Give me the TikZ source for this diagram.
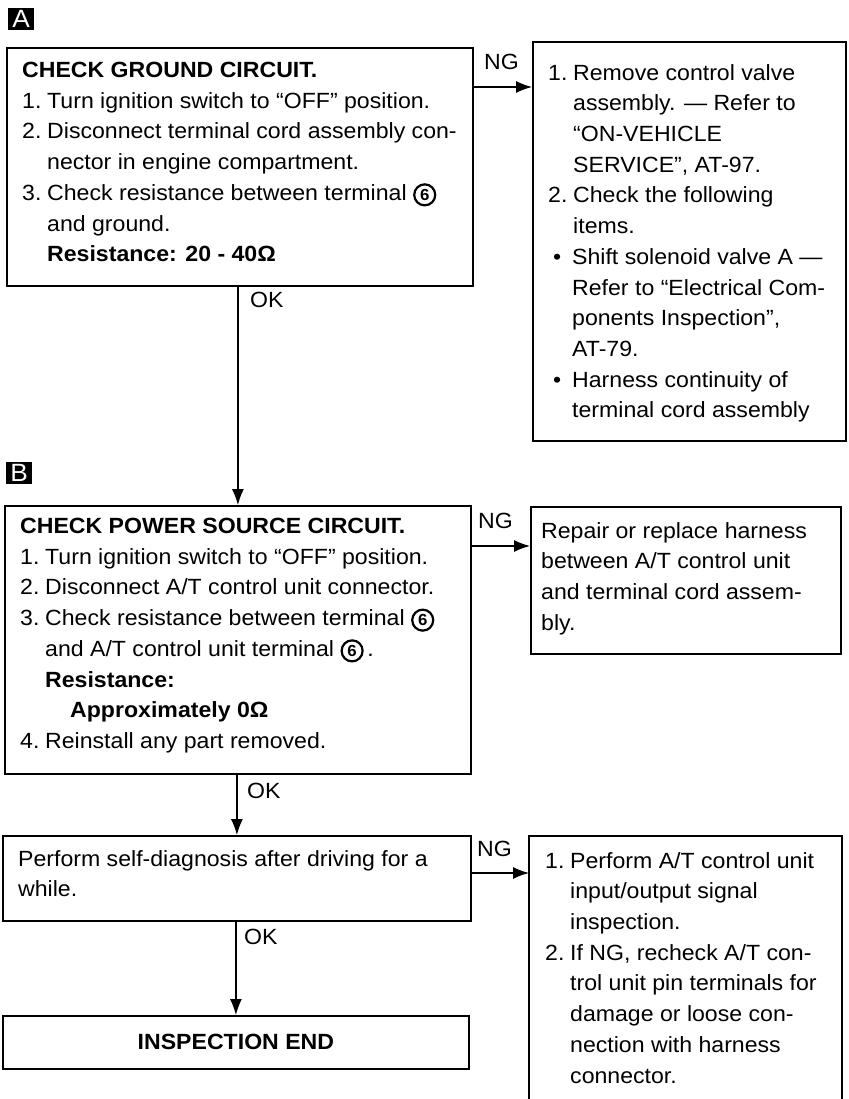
\documentclass[tikz,border=0pt]{standalone}
\usepackage{fontspec}
\setmainfont{Liberation Sans}[FakeStretch=1.05]
\usetikzlibrary{arrows.meta}
\newcommand\itemno[1]{\makebox[25pt][l]{#1}}
\newcommand\contind{\hspace*{25pt}}
\newcommand\bulletno{\makebox[19pt][l]{•}}
\newcommand\bulind{\hspace*{19pt}}
\newcommand\circsix{\tikz[baseline=(c6.base)]\node[circle, draw, line width=2.2pt, inner sep=0pt, minimum size=21pt, font=\fontsize{16}{16}\selectfont\bfseries] (c6) {6};}
\begin{document}
\begin{tikzpicture}[x=1pt,y=-1pt,
  box/.style={draw, line width=1.8pt, inner sep=0pt, anchor=north west},
  txt/.style={anchor=north west, align=left, inner sep=0pt, font=\fontsize{22}{30.7}\selectfont},
  conn/.style={line width=1.2pt, -{Latex[length=16pt,width=12pt]}},
  lbl/.style={font=\fontsize{22}{24}\selectfont, anchor=base west, inner sep=0pt},
  tag/.style={fill=black, text=white, minimum width=26pt, minimum height=22pt, anchor=north west, inner sep=0pt, font=\fontsize{25}{25}\selectfont}]
\useasboundingbox (0,0) rectangle (848,1099);

% tags
\node[tag] (tagA) at (8,8) {A};
\node[tag] (tagB) at (6,462) {B};

% boxes
\node[box, minimum width=466pt, minimum height=238pt] (a) at (6,47) {};
\node[box, minimum width=313pt, minimum height=399pt] (ar) at (532,41) {};
\node[box, minimum width=466pt, minimum height=268pt] (b) at (4,505) {};
\node[box, minimum width=310pt, minimum height=147pt] (br) at (530,506) {};
\node[box, minimum width=468pt, minimum height=85pt] (c) at (2,835) {};
\node[box, draw=none, minimum width=311pt, minimum height=270pt] (cr) at (529,836) {};
\draw[line width=1.8pt] (cr.south west) -- (cr.north west) -- (cr.north east) -- (cr.south east);
\node[box, minimum width=466pt, minimum height=53pt, font=\fontsize{22}{24}\selectfont\bfseries] (d) at (2,1015) {INSPECTION END};

% texts
\node[txt] (ta) at (22,62) {\textbf{CHECK GROUND CIRCUIT.}\\
\itemno{1.}Turn ignition switch to “OFF” position.\\
\itemno{2.}Disconnect terminal cord assembly con-\\
\contind nector in engine compartment.\\
\itemno{3.}Check resistance between terminal \circsix\\
\contind and ground.\\
\contind\textbf{Resistance: 20 - 40Ω}};

\node[txt] (tar) at (548,64) {\itemno{1.}Remove control valve\\
\contind assembly. — Refer to\\
\contind “ON-VEHICLE\\
\contind SERVICE”, AT-97.\\
\itemno{2.}Check the following\\
\contind items.\\
\hspace*{5pt}\bulletno Shift solenoid valve A —\\
\hspace*{5pt}\bulind Refer to “Electrical Com-\\
\hspace*{5pt}\bulind ponents Inspection”,\\
\hspace*{5pt}\bulind AT-79.\\
\hspace*{5pt}\bulletno Harness continuity of\\
\hspace*{5pt}\bulind terminal cord assembly};

\node[txt] (tb) at (20,518) {\textbf{CHECK POWER SOURCE CIRCUIT.}\\
\itemno{1.}Turn ignition switch to “OFF” position.\\
\itemno{2.}Disconnect A/T control unit connector.\\
\itemno{3.}Check resistance between terminal \circsix\\
\contind and A/T control unit terminal \circsix\,.\\
\contind\textbf{Resistance:}\\
\contind\contind\textbf{Approximately 0Ω}\\
\itemno{4.}Reinstall any part removed.};

\node[txt] (tbr) at (541,522) {Repair or replace harness\\
between A/T control unit\\
and terminal cord assem-\\
bly.};

\node[txt] (tc) at (18,850) {Perform self-diagnosis after driving for a\\
while.};

\node[txt] (tcr) at (545,852) {\itemno{1.}Perform A/T control unit\\
\contind input/output signal\\
\contind inspection.\\
\itemno{2.}If NG, recheck A/T con-\\
\contind trol unit pin terminals for\\
\contind damage or loose con-\\
\contind nection with harness\\
\contind connector.};

% connectors
\coordinate (p1) at ([yshift=-40pt]a.north east);
\draw[conn] (p1) -- (p1 -| ar.west);
\node[lbl] (ng1) at (484,70) {NG};

\draw[conn] (a.south -| b.north) -- (b.north);
\node[lbl] (ok1) at (250,307) {OK};

\coordinate (p2) at ([yshift=-41pt]b.north east);
\draw[conn] (p2) -- (p2 -| br.west);
\node[lbl] (ng2) at (478,528) {NG};

\draw[conn] (b.south -| c.north) -- (c.north);
\node[lbl] (ok2) at (247,798) {OK};

\coordinate (p3) at ([yshift=-38pt]c.north east);
\draw[conn] (p3) -- (p3 -| cr.west);
\node[lbl] (ng3) at (477,856) {NG};

\draw[conn] (c.south -| d.north) -- (d.north);
\node[lbl] (ok3) at (244,944) {OK};
\end{tikzpicture}
\end{document}
